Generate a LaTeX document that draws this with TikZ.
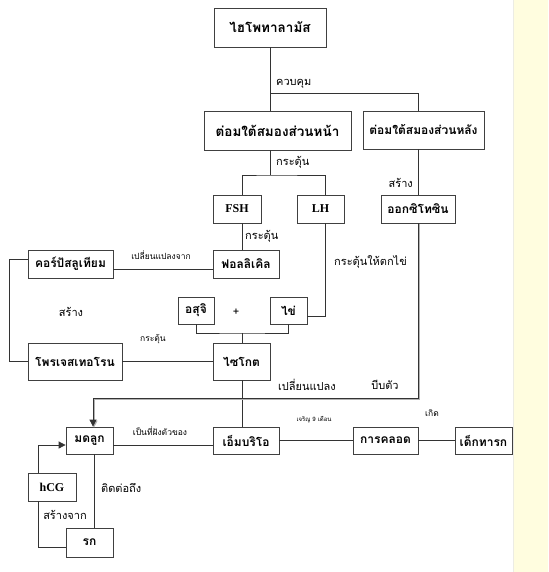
\documentclass[tikz,border=0pt]{standalone}
\usepackage{fontspec}
\newfontfamily\thaifont[Script=Thai]{Loma}
\newfontfamily\latinfont{Liberation Serif}
\usetikzlibrary{arrows.meta, positioning}

\definecolor{sidebar}{HTML}{FFFDDF}
\definecolor{sideedge}{HTML}{ECECE4}

\begin{document}
\begin{tikzpicture}[
  x=1pt, y=-1pt,
  font=\thaifont,
  box/.style ={rectangle, draw=black!75, line width=0.8pt, fill=white, inner sep=0pt,
               font=\thaifont\bfseries\fontsize{12}{14}\selectfont},
  bigbox/.style={box, font=\thaifont\bfseries\fontsize{13.5}{15}\selectfont},
  hbox/.style={box, font=\latinfont\bfseries\fontsize{12}{14}\selectfont},
  sz/.style 2 args={minimum width=#1pt, minimum height=#2pt},
  lbl/.style ={inner sep=1pt, font=\thaifont\fontsize{11}{13}\selectfont},
  slbl/.style={inner sep=1pt, font=\thaifont\fontsize{8.5}{10}\selectfont},
  xlbl/.style={inner sep=1pt, font=\thaifont\fontsize{6}{7}\selectfont},
  wire/.style={draw=black!80, line width=0.8pt},
  arr/.style ={wire, -{Triangle[length=7pt, width=7pt]}},
  shade/.style={preaction={draw=black!30, line width=1.4pt,
                transform canvas={xshift=1pt, yshift=-1pt}}},
]

% ---- page ----
\useasboundingbox (0,0) rectangle (548,572);
\fill[white] (0,0) rectangle (548,572);
\fill[sidebar] (513,0) rectangle (548,572);
\draw[sideedge] (513,0) -- (513,572);

% ---- glands ----
\node[bigbox, sz={112}{39}] (hypo) at (270,27.5)  {ไฮโพทาลามัส};
\node[bigbox, sz={147}{39}] (ant)  at (277.5,130.5) {ต่อมใต้สมองส่วนหน้า};
\node[box, sz={121}{38}] (post) at (423.5,130) {ต่อมใต้สมองส่วนหลัง};

% ---- hormones ----
\node[hbox, sz={48}{28}] (fsh) at (237,209)   {FSH};
\node[hbox, sz={47}{28}] (lh)  at (320.5,209) {LH};
\node[box,  sz={74}{28}] (oxy) at (418,209)   {ออกซิโทซิน};

% ---- ovary / fertilisation ----
\node[box, sz={66}{28}] (foll)  at (246,264)     {ฟอลลิเคิล};
\node[box, sz={85}{28}] (corp)  at (70.5,264)    {คอร์ปัสลูเทียม};
\node[box, sz={36}{27}] (sperm) at (196,310.5)   {อสุจิ};
\node[box, sz={37}{27}] (egg)   at (288.5,310.5) {ไข่};
\node[box, sz={94}{37}] (prog)  at (75,361.5)    {โพรเจสเทอโรน};
\node[box, sz={57}{37}] (zyg)   at (241.5,361.5) {ไซโกต};

% ---- pregnancy ----
\node[box,  sz={66}{27}] (emb)   at (246,440.5)   {เอ็มบริโอ};
\node[box,  sz={47}{27}] (uter)  at (89.5,440.5)  {มดลูก};
\node[box,  sz={65}{27}] (labor) at (385.5,440.5) {การคลอด};
\node[box,  sz={57}{27}] (baby)  at (483.5,440.5) {เด็กทารก};
\node[hbox, sz={48}{28}] (hcg)   at (52,487)      {hCG};
\node[box,  sz={47}{29}] (plac)  at (89.5,542.5)  {รก};

% ---- junctions ----
\coordinate (ctl)  at (270,93);
\coordinate (stim) at (270,175);
\coordinate (fuse) at (242,333);
\coordinate (squz) at (418,398);

% ---- hypothalamus -> pituitary ----
\draw[wire] (hypo.south) -- (hypo.south |- ant.north);
\draw[wire] (ctl) -| ([xshift=-5.5pt]post.north);
\node[lbl, anchor=west] (t1) at (275,84) {ควบคุม};

% ---- pituitary -> hormones ----
\draw[wire] (stim |- ant.south) -- (stim);
\draw[wire] ([xshift=5pt]fsh.north) |- (stim) -| ([xshift=4.5pt]lh.north);
\node[lbl, anchor=west] (t2) at (275,162) {กระตุ้น};
\draw[wire] ([xshift=-5.5pt]post.south) -- (oxy.north);
\node[lbl, anchor=east] (t3) at (414,183) {สร้าง};

% ---- ovary ----
\draw[wire] ([xshift=5pt]fsh.south) -- ([xshift=-4pt]foll.north);
\node[lbl, anchor=west] (t4) at (244,236) {กระตุ้น};
\draw[wire] ([xshift=4.5pt]lh.south) |- ([yshift=-5.5pt]egg.east);
\node[lbl, anchor=west] (t5) at (333,262) {กระตุ้นให้ตกไข่};
\draw[wire] ([yshift=-5pt]foll.west) -- ([yshift=-5pt]corp.east);
\node[slbl] (t6) at (161,255) {เปลี่ยนแปลงจาก};
\draw[wire] ([yshift=5pt]corp.west) -- ++(-18,0) |- (prog.west);
\node[lbl] (t7) at (71,312) {สร้าง};
\draw[wire] (prog.east) -- (zyg.west);
\node[slbl] (t8) at (153,339) {กระตุ้น};

% ---- fertilisation ----
\draw[wire] (sperm.south) |- (fuse) -| (egg.south);
\draw[wire] (fuse) -- (fuse |- zyg.north);
\node[lbl] (plus) at (236,312) {+};
\draw[wire] (fuse |- zyg.south) -- (fuse |- emb.north);

% ---- oxytocin -> uterus ----
\draw[arr, shade] (oxy.south) -- (squz) -| ([xshift=3.5pt]uter.north);
\node[lbl] (t9)  at (307,385) {เปลี่ยนแปลง};
\node[lbl] (t10) at (385,385) {บีบตัว};

% ---- pregnancy chain ----
\draw[wire] ([yshift=-4.5pt]uter.east) -- ([yshift=-4.5pt]emb.west);
\node[slbl, anchor=south] (t11) at (160,437) {เป็นที่ฝังตัวของ};
\draw[wire] (emb.east) -- (labor.west);
\node[xlbl] (t12) at (314,420) {เจริญ 9 เดือน};
\draw[wire] (labor.east) -- (baby.west);
\node[slbl] (t13) at (432,413) {เกิด};

% ---- placenta ----
\draw[arr] ([xshift=-14pt]hcg.north) |- ([yshift=-4.5pt]uter.west);
\draw[wire] ([xshift=-14pt]hcg.south) |- ([yshift=-4.5pt]plac.west);
\node[lbl] (t14) at (65,515) {สร้างจาก};
\draw[wire] ([xshift=4.5pt]uter.south) -- ([xshift=4.5pt]plac.north);
\node[lbl, anchor=west] (t15) at (100,488) {ติดต่อถึง};

\end{tikzpicture}
\end{document}
